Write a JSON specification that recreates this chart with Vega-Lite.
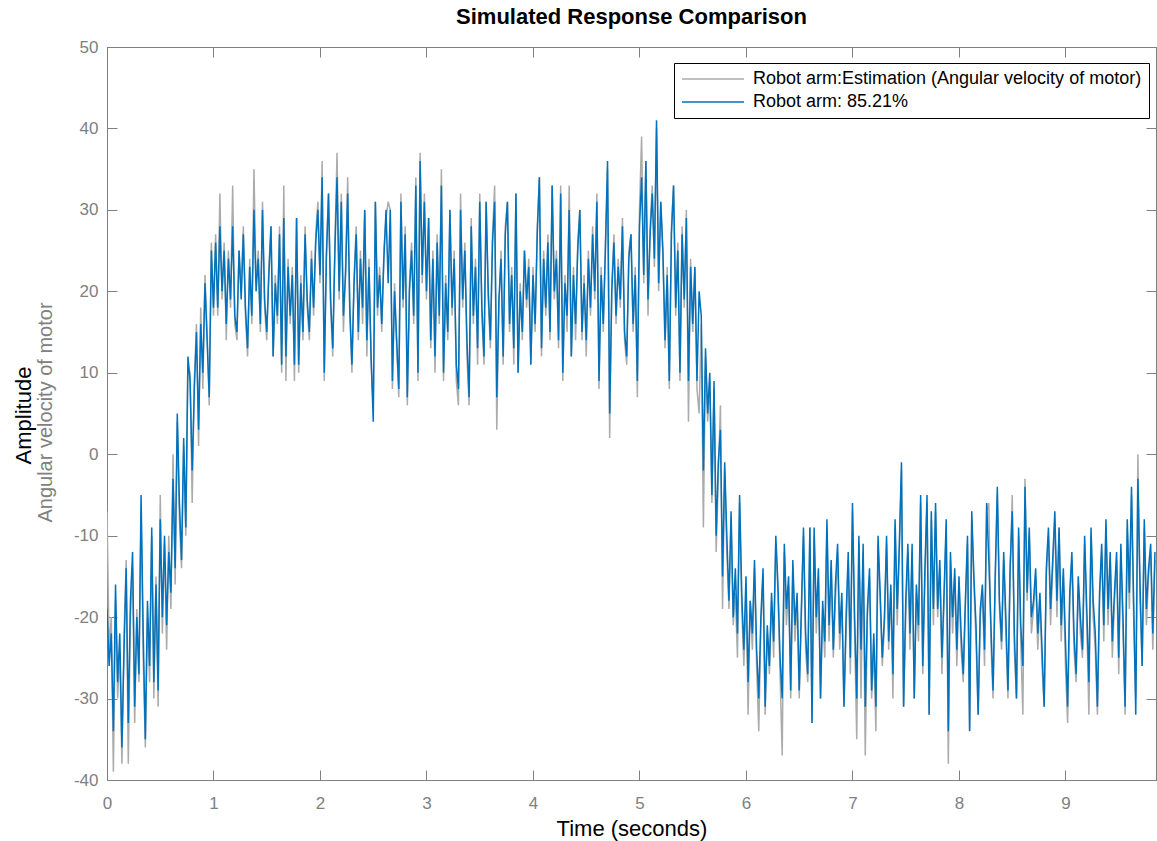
{
"$schema":"https://vega.github.io/schema/vega-lite/v6.json",
"width":1049,"height":733,
"autosize":"none",
"padding":{"left":107,"top":47,"right":1,"bottom":61},
"title":{"text":"Simulated Response Comparison","font":"Liberation Sans","fontSize":22,"fontWeight":"bold","color":"#000000","offset":9},
"data":{"values":[
{"t":0.00,"b":-19,"g":-7},{"t":0.02,"b":-26,"g":-24},{"t":0.04,"b":-22,"g":-20},{"t":0.06,"b":-34,"g":-39},{"t":0.08,"b":-16,"g":-18},
{"t":0.10,"b":-28,"g":-30},{"t":0.12,"b":-22,"g":-24},{"t":0.14,"b":-36,"g":-38},{"t":0.16,"b":-24,"g":-22},{"t":0.18,"b":-14,"g":-13},
{"t":0.20,"b":-33,"g":-38},{"t":0.22,"b":-18,"g":-20},{"t":0.24,"b":-12,"g":-14},{"t":0.26,"b":-31,"g":-33},{"t":0.28,"b":-20,"g":-19},
{"t":0.30,"b":-27,"g":-28},{"t":0.32,"b":-5,"g":-7},{"t":0.34,"b":-22,"g":-25},{"t":0.36,"b":-35,"g":-36},{"t":0.38,"b":-18,"g":-20},
{"t":0.40,"b":-26,"g":-28},{"t":0.42,"b":-9,"g":-10},{"t":0.44,"b":-28,"g":-30},{"t":0.46,"b":-16,"g":-15},{"t":0.48,"b":-29,"g":-31},
{"t":0.50,"b":-8,"g":-5},{"t":0.52,"b":-20,"g":-22},{"t":0.54,"b":-10,"g":-11},{"t":0.56,"b":-21,"g":-24},{"t":0.58,"b":-12,"g":-10},
{"t":0.60,"b":-17,"g":-19},{"t":0.62,"b":-3,"g":0},{"t":0.64,"b":-14,"g":-16},{"t":0.66,"b":5,"g":4},{"t":0.68,"b":-6,"g":-8},
{"t":0.70,"b":-13,"g":-14},{"t":0.72,"b":2,"g":1},{"t":0.74,"b":-9,"g":-10},{"t":0.76,"b":12,"g":11},{"t":0.78,"b":9,"g":10},
{"t":0.80,"b":-2,"g":-6},{"t":0.82,"b":8,"g":9},{"t":0.84,"b":15,"g":16},{"t":0.86,"b":3,"g":1},{"t":0.88,"b":16,"g":18},
{"t":0.90,"b":10,"g":8},{"t":0.92,"b":21,"g":22},{"t":0.94,"b":14,"g":15},{"t":0.96,"b":7,"g":6},{"t":0.98,"b":25,"g":26},
{"t":1.00,"b":18,"g":17},{"t":1.02,"b":26,"g":27},{"t":1.04,"b":18,"g":17},{"t":1.06,"b":28,"g":32},{"t":1.08,"b":20,"g":19},
{"t":1.10,"b":25,"g":26},{"t":1.12,"b":16,"g":14},{"t":1.14,"b":24,"g":25},{"t":1.16,"b":19,"g":18},{"t":1.18,"b":28,"g":33},
{"t":1.20,"b":17,"g":16},{"t":1.22,"b":15,"g":14},{"t":1.24,"b":25,"g":25},{"t":1.26,"b":19,"g":20},{"t":1.28,"b":27,"g":28},
{"t":1.30,"b":18,"g":17},{"t":1.32,"b":13,"g":12},{"t":1.34,"b":23,"g":24},{"t":1.36,"b":17,"g":16},{"t":1.38,"b":30,"g":35},
{"t":1.40,"b":20,"g":21},{"t":1.42,"b":24,"g":25},{"t":1.44,"b":16,"g":15},{"t":1.46,"b":30,"g":31},{"t":1.48,"b":19,"g":18},
{"t":1.50,"b":15,"g":14},{"t":1.52,"b":22,"g":23},{"t":1.54,"b":28,"g":28},{"t":1.56,"b":12,"g":12},{"t":1.58,"b":21,"g":22},
{"t":1.60,"b":17,"g":16},{"t":1.62,"b":27,"g":28},{"t":1.64,"b":11,"g":10},{"t":1.66,"b":29,"g":33},{"t":1.68,"b":12,"g":9},
{"t":1.70,"b":23,"g":24},{"t":1.72,"b":17,"g":16},{"t":1.74,"b":22,"g":23},{"t":1.76,"b":11,"g":9},{"t":1.78,"b":29,"g":29},
{"t":1.80,"b":11,"g":10},{"t":1.82,"b":21,"g":22},{"t":1.84,"b":15,"g":14},{"t":1.86,"b":27,"g":28},{"t":1.88,"b":19,"g":18},
{"t":1.90,"b":15,"g":14},{"t":1.92,"b":24,"g":25},{"t":1.94,"b":18,"g":17},{"t":1.96,"b":26,"g":27},{"t":1.98,"b":30,"g":31},
{"t":2.00,"b":22,"g":21},{"t":2.02,"b":34,"g":36},{"t":2.04,"b":10,"g":9},{"t":2.06,"b":24,"g":25},{"t":2.08,"b":32,"g":32},
{"t":2.10,"b":19,"g":18},{"t":2.12,"b":13,"g":12},{"t":2.14,"b":25,"g":26},{"t":2.16,"b":34,"g":37},{"t":2.18,"b":20,"g":19},
{"t":2.20,"b":31,"g":32},{"t":2.22,"b":17,"g":15},{"t":2.24,"b":22,"g":23},{"t":2.26,"b":32,"g":34},{"t":2.28,"b":18,"g":17},
{"t":2.30,"b":11,"g":10},{"t":2.32,"b":21,"g":22},{"t":2.34,"b":27,"g":28},{"t":2.36,"b":15,"g":14},{"t":2.38,"b":24,"g":25},
{"t":2.40,"b":18,"g":16},{"t":2.42,"b":30,"g":30},{"t":2.44,"b":14,"g":12},{"t":2.46,"b":23,"g":24},{"t":2.48,"b":12,"g":11},
{"t":2.50,"b":4,"g":6},{"t":2.52,"b":31,"g":31},{"t":2.54,"b":18,"g":17},{"t":2.56,"b":22,"g":23},{"t":2.58,"b":16,"g":15},
{"t":2.60,"b":24,"g":25},{"t":2.62,"b":30,"g":29},{"t":2.64,"b":21,"g":31},{"t":2.66,"b":30,"g":30},{"t":2.68,"b":9,"g":8},
{"t":2.70,"b":20,"g":21},{"t":2.72,"b":14,"g":13},{"t":2.74,"b":8,"g":7},{"t":2.76,"b":31,"g":32},{"t":2.78,"b":19,"g":18},
{"t":2.80,"b":27,"g":28},{"t":2.82,"b":7,"g":6},{"t":2.84,"b":20,"g":21},{"t":2.86,"b":25,"g":26},{"t":2.88,"b":17,"g":16},
{"t":2.90,"b":33,"g":34},{"t":2.92,"b":10,"g":9},{"t":2.94,"b":36,"g":37},{"t":2.96,"b":22,"g":21},{"t":2.98,"b":31,"g":32},
{"t":3.00,"b":20,"g":19},{"t":3.02,"b":29,"g":29},{"t":3.04,"b":14,"g":13},{"t":3.06,"b":24,"g":25},{"t":3.08,"b":12,"g":10},
{"t":3.10,"b":26,"g":27},{"t":3.12,"b":17,"g":16},{"t":3.14,"b":33,"g":35},{"t":3.16,"b":10,"g":9},{"t":3.18,"b":21,"g":22},
{"t":3.20,"b":15,"g":14},{"t":3.22,"b":30,"g":30},{"t":3.24,"b":18,"g":17},{"t":3.26,"b":24,"g":25},{"t":3.28,"b":11,"g":9},
{"t":3.30,"b":8,"g":6},{"t":3.32,"b":30,"g":32},{"t":3.34,"b":19,"g":18},{"t":3.36,"b":25,"g":26},{"t":3.38,"b":14,"g":12},
{"t":3.40,"b":7,"g":6},{"t":3.42,"b":28,"g":29},{"t":3.44,"b":17,"g":16},{"t":3.46,"b":23,"g":24},{"t":3.48,"b":13,"g":11},
{"t":3.50,"b":31,"g":32},{"t":3.52,"b":18,"g":17},{"t":3.54,"b":12,"g":11},{"t":3.56,"b":31,"g":31},{"t":3.58,"b":20,"g":19},
{"t":3.60,"b":14,"g":13},{"t":3.62,"b":26,"g":27},{"t":3.64,"b":31,"g":33},{"t":3.66,"b":7,"g":3},{"t":3.68,"b":19,"g":18},
{"t":3.70,"b":24,"g":25},{"t":3.72,"b":12,"g":11},{"t":3.74,"b":27,"g":28},{"t":3.76,"b":31,"g":31},{"t":3.78,"b":16,"g":15},
{"t":3.80,"b":22,"g":23},{"t":3.82,"b":13,"g":11},{"t":3.84,"b":32,"g":32},{"t":3.86,"b":10,"g":10},{"t":3.88,"b":20,"g":21},
{"t":3.90,"b":15,"g":14},{"t":3.92,"b":25,"g":25},{"t":3.94,"b":19,"g":18},{"t":3.96,"b":23,"g":24},{"t":3.98,"b":11,"g":11},
{"t":4.00,"b":22,"g":23},{"t":4.02,"b":16,"g":15},{"t":4.04,"b":27,"g":28},{"t":4.06,"b":34,"g":34},{"t":4.08,"b":13,"g":12},
{"t":4.10,"b":24,"g":25},{"t":4.12,"b":18,"g":17},{"t":4.14,"b":26,"g":27},{"t":4.16,"b":15,"g":14},{"t":4.18,"b":33,"g":33},
{"t":4.20,"b":20,"g":19},{"t":4.22,"b":24,"g":25},{"t":4.24,"b":14,"g":13},{"t":4.26,"b":32,"g":33},{"t":4.28,"b":10,"g":9},
{"t":4.30,"b":21,"g":22},{"t":4.32,"b":17,"g":15},{"t":4.34,"b":30,"g":33},{"t":4.36,"b":12,"g":12},{"t":4.38,"b":22,"g":23},
{"t":4.40,"b":16,"g":14},{"t":4.42,"b":25,"g":26},{"t":4.44,"b":30,"g":30},{"t":4.46,"b":15,"g":14},{"t":4.48,"b":21,"g":22},
{"t":4.50,"b":14,"g":12},{"t":4.52,"b":24,"g":25},{"t":4.54,"b":18,"g":17},{"t":4.56,"b":27,"g":28},{"t":4.58,"b":20,"g":19},
{"t":4.60,"b":31,"g":32},{"t":4.62,"b":9,"g":8},{"t":4.64,"b":22,"g":23},{"t":4.66,"b":16,"g":15},{"t":4.68,"b":25,"g":26},
{"t":4.70,"b":36,"g":35},{"t":4.72,"b":5,"g":2},{"t":4.74,"b":20,"g":21},{"t":4.76,"b":26,"g":27},{"t":4.78,"b":17,"g":16},
{"t":4.80,"b":23,"g":24},{"t":4.82,"b":19,"g":18},{"t":4.84,"b":28,"g":29},{"t":4.86,"b":15,"g":14},{"t":4.88,"b":12,"g":11},
{"t":4.90,"b":24,"g":25},{"t":4.92,"b":27,"g":27},{"t":4.94,"b":16,"g":15},{"t":4.96,"b":22,"g":23},{"t":4.98,"b":9,"g":7},
{"t":5.00,"b":28,"g":30},{"t":5.02,"b":34,"g":39},{"t":5.04,"b":22,"g":21},{"t":5.06,"b":36,"g":36},{"t":5.08,"b":19,"g":17},
{"t":5.10,"b":27,"g":28},{"t":5.12,"b":32,"g":33},{"t":5.14,"b":24,"g":23},{"t":5.16,"b":41,"g":40},{"t":5.18,"b":21,"g":20},
{"t":5.20,"b":31,"g":31},{"t":5.22,"b":25,"g":24},{"t":5.24,"b":14,"g":13},{"t":5.26,"b":22,"g":23},{"t":5.28,"b":9,"g":8},
{"t":5.30,"b":27,"g":28},{"t":5.32,"b":33,"g":33},{"t":5.34,"b":18,"g":17},{"t":5.36,"b":25,"g":26},{"t":5.38,"b":10,"g":9},
{"t":5.40,"b":27,"g":28},{"t":5.42,"b":19,"g":18},{"t":5.44,"b":29,"g":30},{"t":5.46,"b":9,"g":4},{"t":5.48,"b":23,"g":24},
{"t":5.50,"b":16,"g":15},{"t":5.52,"b":23,"g":23},{"t":5.54,"b":9,"g":8},{"t":5.56,"b":20,"g":5},{"t":5.58,"b":17,"g":16},
{"t":5.60,"b":-2,"g":-9},{"t":5.62,"b":13,"g":12},{"t":5.64,"b":5,"g":4},{"t":5.66,"b":10,"g":9},{"t":5.68,"b":-5,"g":-6},
{"t":5.70,"b":9,"g":8},{"t":5.72,"b":-10,"g":-12},{"t":5.74,"b":-1,"g":-3},{"t":5.76,"b":3,"g":6},{"t":5.78,"b":-15,"g":-19},
{"t":5.80,"b":-1,"g":-2},{"t":5.82,"b":-10,"g":-12},{"t":5.84,"b":-18,"g":-19},{"t":5.86,"b":-7,"g":-8},{"t":5.88,"b":-20,"g":-21},
{"t":5.90,"b":-14,"g":-17},{"t":5.92,"b":-22,"g":-25},{"t":5.94,"b":-5,"g":-6},{"t":5.96,"b":-17,"g":-19},{"t":5.98,"b":-24,"g":-26},
{"t":6.00,"b":-15,"g":-17},{"t":6.02,"b":-28,"g":-32},{"t":6.04,"b":-18,"g":-18},{"t":6.06,"b":-22,"g":-24},{"t":6.08,"b":-13,"g":-14},
{"t":6.10,"b":-24,"g":-26},{"t":6.12,"b":-30,"g":-34},{"t":6.14,"b":-20,"g":-21},{"t":6.16,"b":-14,"g":-15},{"t":6.18,"b":-31,"g":-32},
{"t":6.20,"b":-21,"g":-22},{"t":6.22,"b":-26,"g":-27},{"t":6.24,"b":-17,"g":-18},{"t":6.26,"b":-23,"g":-25},{"t":6.28,"b":-10,"g":-11},
{"t":6.30,"b":-16,"g":-17},{"t":6.32,"b":-25,"g":-27},{"t":6.34,"b":-30,"g":-37},{"t":6.36,"b":-11,"g":-12},{"t":6.38,"b":-19,"g":-21},
{"t":6.40,"b":-15,"g":-16},{"t":6.42,"b":-29,"g":-30},{"t":6.44,"b":-13,"g":-14},{"t":6.46,"b":-21,"g":-23},{"t":6.48,"b":-17,"g":-18},
{"t":6.50,"b":-29,"g":-30},{"t":6.52,"b":-19,"g":-20},{"t":6.54,"b":-9,"g":-10},{"t":6.56,"b":-22,"g":-24},{"t":6.58,"b":-27,"g":-28},
{"t":6.60,"b":-9,"g":-9},{"t":6.62,"b":-33,"g":-33},{"t":6.64,"b":-9,"g":-10},{"t":6.66,"b":-20,"g":-22},{"t":6.68,"b":-14,"g":-15},
{"t":6.70,"b":-30,"g":-30},{"t":6.72,"b":-18,"g":-19},{"t":6.74,"b":-23,"g":-25},{"t":6.76,"b":-8,"g":-9},{"t":6.78,"b":-21,"g":-23},
{"t":6.80,"b":-13,"g":-14},{"t":6.82,"b":-24,"g":-25},{"t":6.84,"b":-16,"g":-18},{"t":6.86,"b":-11,"g":-12},{"t":6.88,"b":-22,"g":-24},
{"t":6.90,"b":-17,"g":-18},{"t":6.92,"b":-31,"g":-31},{"t":6.94,"b":-20,"g":-22},{"t":6.96,"b":-12,"g":-13},{"t":6.98,"b":-25,"g":-27},
{"t":7.00,"b":-6,"g":-7},{"t":7.02,"b":-20,"g":-22},{"t":7.04,"b":-30,"g":-35},{"t":7.06,"b":-10,"g":-11},{"t":7.08,"b":-24,"g":-30},
{"t":7.10,"b":-11,"g":-12},{"t":7.12,"b":-31,"g":-37},{"t":7.14,"b":-19,"g":-20},{"t":7.16,"b":-14,"g":-15},{"t":7.18,"b":-29,"g":-30},
{"t":7.20,"b":-22,"g":-24},{"t":7.22,"b":-31,"g":-34},{"t":7.24,"b":-10,"g":-11},{"t":7.26,"b":-17,"g":-18},{"t":7.28,"b":-25,"g":-26},
{"t":7.30,"b":-20,"g":-21},{"t":7.32,"b":-10,"g":-11},{"t":7.34,"b":-23,"g":-24},{"t":7.36,"b":-16,"g":-17},{"t":7.38,"b":-27,"g":-30},
{"t":7.40,"b":-8,"g":-9},{"t":7.42,"b":-19,"g":-21},{"t":7.44,"b":-11,"g":-12},{"t":7.46,"b":-1,"g":-2},{"t":7.48,"b":-31,"g":-31},
{"t":7.50,"b":-18,"g":-20},{"t":7.52,"b":-11,"g":-12},{"t":7.54,"b":-22,"g":-24},{"t":7.56,"b":-11,"g":-12},{"t":7.58,"b":-30,"g":-30},
{"t":7.60,"b":-16,"g":-17},{"t":7.62,"b":-21,"g":-23},{"t":7.64,"b":-5,"g":-6},{"t":7.66,"b":-26,"g":-27},{"t":7.68,"b":-14,"g":-16},
{"t":7.70,"b":-5,"g":-6},{"t":7.72,"b":-32,"g":-32},{"t":7.74,"b":-7,"g":-8},{"t":7.76,"b":-19,"g":-21},{"t":7.78,"b":-6,"g":-7},
{"t":7.80,"b":-19,"g":-20},{"t":7.82,"b":-13,"g":-14},{"t":7.84,"b":-25,"g":-27},{"t":7.86,"b":-17,"g":-18},{"t":7.88,"b":-8,"g":-9},
{"t":7.90,"b":-34,"g":-38},{"t":7.92,"b":-12,"g":-13},{"t":7.94,"b":-20,"g":-22},{"t":7.96,"b":-14,"g":-15},{"t":7.98,"b":-24,"g":-26},
{"t":8.00,"b":-15,"g":-16},{"t":8.02,"b":-22,"g":-24},{"t":8.04,"b":-27,"g":-28},{"t":8.06,"b":-18,"g":-19},{"t":8.08,"b":-10,"g":-11},
{"t":8.10,"b":-34,"g":-34},{"t":8.12,"b":-7,"g":-8},{"t":8.14,"b":-15,"g":-16},{"t":8.16,"b":-21,"g":-23},{"t":8.18,"b":-32,"g":-32},
{"t":8.20,"b":-19,"g":-20},{"t":8.22,"b":-16,"g":-17},{"t":8.24,"b":-24,"g":-26},{"t":8.26,"b":-6,"g":-7},{"t":8.28,"b":-13,"g":-6},
{"t":8.30,"b":-21,"g":-23},{"t":8.32,"b":-29,"g":-30},{"t":8.34,"b":-15,"g":-16},{"t":8.36,"b":-4,"g":-5},{"t":8.38,"b":-18,"g":-19},
{"t":8.40,"b":-23,"g":-24},{"t":8.42,"b":-12,"g":-13},{"t":8.44,"b":-20,"g":-22},{"t":8.46,"b":-29,"g":-30},{"t":8.48,"b":-14,"g":-15},
{"t":8.50,"b":-7,"g":-5},{"t":8.52,"b":-22,"g":-24},{"t":8.54,"b":-30,"g":-30},{"t":8.56,"b":-9,"g":-10},{"t":8.58,"b":-21,"g":-23},
{"t":8.60,"b":-26,"g":-32},{"t":8.62,"b":-4,"g":-3},{"t":8.64,"b":-17,"g":-18},{"t":8.66,"b":-9,"g":-10},{"t":8.68,"b":-20,"g":-22},
{"t":8.70,"b":-18,"g":-19},{"t":8.72,"b":-14,"g":-15},{"t":8.74,"b":-22,"g":-24},{"t":8.76,"b":-17,"g":-18},{"t":8.78,"b":-24,"g":-26},
{"t":8.80,"b":-31,"g":-31},{"t":8.82,"b":-14,"g":-15},{"t":8.84,"b":-9,"g":-10},{"t":8.86,"b":-19,"g":-21},{"t":8.88,"b":-13,"g":-14},
{"t":8.90,"b":-7,"g":-8},{"t":8.92,"b":-18,"g":-20},{"t":8.94,"b":-9,"g":-9},{"t":8.96,"b":-21,"g":-23},{"t":8.98,"b":-14,"g":-15},
{"t":9.00,"b":-23,"g":-26},{"t":9.02,"b":-31,"g":-33},{"t":9.04,"b":-17,"g":-18},{"t":9.06,"b":-12,"g":-13},{"t":9.08,"b":-22,"g":-24},
{"t":9.10,"b":-27,"g":-28},{"t":9.12,"b":-15,"g":-16},{"t":9.14,"b":-20,"g":-22},{"t":9.16,"b":-24,"g":-25},{"t":9.18,"b":-10,"g":-11},
{"t":9.20,"b":-19,"g":-21},{"t":9.22,"b":-28,"g":-32},{"t":9.24,"b":-9,"g":-10},{"t":9.26,"b":-18,"g":-20},{"t":9.28,"b":-22,"g":-24},
{"t":9.30,"b":-31,"g":-32},{"t":9.32,"b":-17,"g":-18},{"t":9.34,"b":-11,"g":-12},{"t":9.36,"b":-21,"g":-23},{"t":9.38,"b":-8,"g":-9},
{"t":9.40,"b":-19,"g":-21},{"t":9.42,"b":-12,"g":-13},{"t":9.44,"b":-23,"g":-25},{"t":9.46,"b":-17,"g":-18},{"t":9.48,"b":-12,"g":-13},
{"t":9.50,"b":-25,"g":-27},{"t":9.52,"b":-11,"g":-12},{"t":9.54,"b":-20,"g":-22},{"t":9.56,"b":-31,"g":-32},{"t":9.58,"b":-8,"g":-9},
{"t":9.60,"b":-17,"g":-19},{"t":9.62,"b":-4,"g":-5},{"t":9.64,"b":-18,"g":-20},{"t":9.66,"b":-32,"g":-30},{"t":9.68,"b":-3,"g":0},
{"t":9.70,"b":-16,"g":-18},{"t":9.72,"b":-26,"g":-26},{"t":9.74,"b":-8,"g":-9},{"t":9.76,"b":-19,"g":-21},{"t":9.78,"b":-14,"g":-15},
{"t":9.80,"b":-11,"g":-12},{"t":9.82,"b":-22,"g":-24},{"t":9.84,"b":-12,"g":-13}
]},
"layer":[
{"mark":{"type":"line","strokeWidth":1.5,"clip":true},
 "encoding":{
  "x":{"field":"t","type":"quantitative","scale":{"domain":[0,9.85],"nice":false,"zero":false},
       "axis":{"orient":"bottom","values":[0,1,2,3,4,5,6,7,8,9],"labelPadding":25,"title":"Time (seconds)","titleFontSize":22,"titleColor":"#000000","titleFont":"Liberation Sans","titleFontWeight":"normal","titleBaseline":"middle","titleY":48}},
  "y":{"field":"g","type":"quantitative","scale":{"domain":[-40,50],"nice":false,"zero":false},
       "axis":{"orient":"left","values":[-40,-30,-20,-10,0,10,20,30,40,50],"labelExpr":"'' + datum.value","labelPadding":19,"title":"Amplitude","titleFontSize":22,"titleColor":"#000000","titleFont":"Liberation Sans","titleFontWeight":"normal","titleBaseline":"alphabetic","titleAngle":-90,"titleX":-77,"titleY":368,"titleAlign":"center"}},
  "color":{"datum":"Robot arm:Estimation (Angular velocity of motor)","type":"nominal",
    "scale":{"domain":["Robot arm:Estimation (Angular velocity of motor)","Robot arm: 85.21%"],"range":["#ababab","#0072bd"]},
    "legend":{"title":null}}
 }},
{"mark":{"type":"line","strokeWidth":1.5,"clip":true},
 "encoding":{
  "x":{"field":"t","type":"quantitative","axis":{"orient":"top","values":[0,1,2,3,4,5,6,7,8,9],"labels":false,"title":null}},
  "y":{"field":"b","type":"quantitative","axis":{"orient":"right","values":[-40,-30,-20,-10,0,10,20,30,40,50],"labels":false,"title":null}},
  "color":{"datum":"Robot arm: 85.21%","type":"nominal","legend":{"title":null}}
 }},
{"mark":{"type":"line","opacity":0,"clip":true},
 "encoding":{
  "x":{"field":"t","type":"quantitative","axis":null},
  "y":{"field":"b","type":"quantitative","axis":{"orient":"left","labels":false,"ticks":false,"domain":false,"title":"Angular velocity of motor","titleFontSize":20,"titleColor":"#808080","titleFont":"Liberation Sans","titleFontWeight":"normal","titleBaseline":"alphabetic","titleAngle":-90,"titleX":-56,"titleY":365,"titleAlign":"center"}}
 }}
],
"resolve":{"axis":{"x":"independent","y":"independent"}},
"config":{
 "font":"Liberation Sans",
 "background":"#ffffff",
 "view":{"stroke":"#808080","strokeWidth":1},
 "axis":{"grid":false,"domainColor":"#808080","tickColor":"#808080","labelColor":"#808080","labelFont":"Liberation Sans","labelFontSize":17,"labelFlush":false,"labelOverlap":false,"tickSize":-10,"domainWidth":1,"tickWidth":1},
 "legend":{"orient":"none","legendX":567,"legendY":16,"strokeColor":"#000000","fillColor":"#ffffff","padding":7,"rowPadding":5,"symbolType":"M-1.6,0H10.8","symbolSize":100,"symbolStrokeWidth":1.5,"labelFontSize":18,"labelFont":"Liberation Sans","labelColor":"#000000","labelOffset":54,"labelLimit":700}
}
}
